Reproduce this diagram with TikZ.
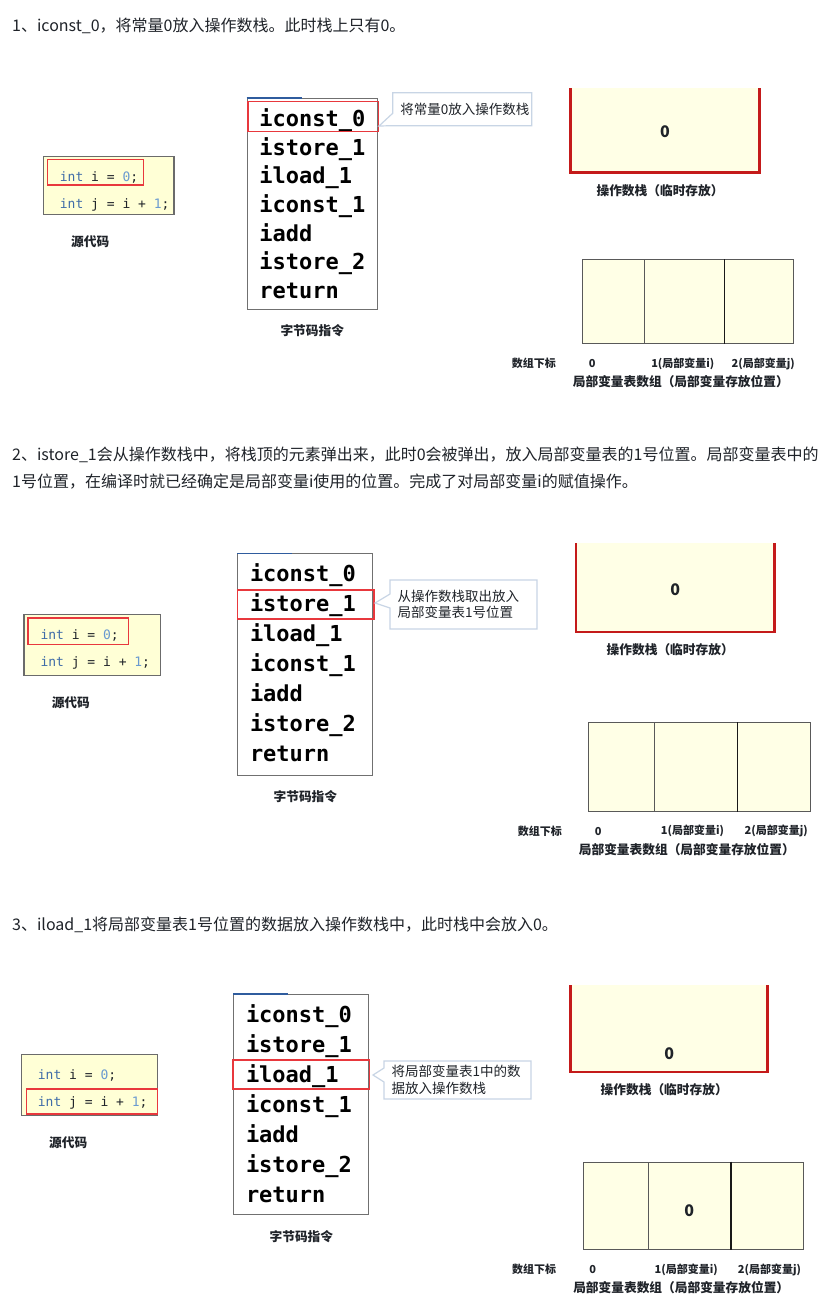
\documentclass[tikz,border=0pt]{standalone}
\usepackage{fontspec}
\setmainfont{Noto Sans CJK SC}
\setmonofont{DejaVu Sans Mono}
\usetikzlibrary{calc,positioning}
\definecolor{ink}{HTML}{1F2329}
\definecolor{kwblue}{HTML}{3F6CA8}
\definecolor{litblue}{HTML}{6A9AD0}
\definecolor{srcfill}{HTML}{FFFFD6}
\definecolor{cellfill}{HTML}{FFFFE6}
\definecolor{hlred}{HTML}{E8383D}
\definecolor{wallred}{HTML}{C41A1A}
\definecolor{noteline}{HTML}{C8D5E5}
\definecolor{edgeblue}{HTML}{2F5C9E}
\newcommand{\kw}[1]{\textcolor{kwblue}{#1}}
\newcommand{\lit}[1]{\textcolor{litblue}{#1}}
\newcommand{\hlbox}[5]{%
  \node[hl,anchor=north west,minimum width={#4-#2},minimum height={#5-#3}] (#1) at (#2,#3) {};
}
\newcommand{\srcpanel}[5]{%
  \node[srcbox,anchor=north west,minimum width=#4,minimum height=#5] (#1) at (#2,#3) {};
  \node[code] (#1-a) at ($(#1.north west)+(17,25)$) {\kw{int} i = \lit{0};};
  \node[code] (#1-b) at ($(#1.north west)+(17,52.5)$) {\kw{int} j = i + \lit{1};};
  \node[caption] (#1-cap) at ($(#1.south west)+(47.5,26.5)$) {源代码};
}
\newcommand{\bcpanel}[6]{%
  \node[bcbox,anchor=north west,minimum width=#4,minimum height=#5] (#1) at (#2,#3) {};
  \draw[bcedge] (#1.north west) -- ++(55,0);
  \foreach \op [count=\k] in {iconst\_0,istore\_1,iload\_1,iconst\_1,iadd,istore\_2,return}
    \node[bcop] (#1-\k) at ($(#1.north west)+(12.5,{28.3+(\k-1)*#6})$) {\op};
  \node[caption] (#1-cap) at ($(#1.south)+(0,21)$) {字节码指令};
}
\newcommand{\callout}[9]{%
  \draw[noteline] (#2,#3) -- (#4,#3) -- (#4,#5) -- (#2,#5) -- (#2,#8) -- #6 -- (#2,#7) -- cycle;
  \node[note] (#1) at ({#2+7.5},{(#3+#5)/2}) {#9};
}
\newcommand{\stackpanel}[6]{%
  \node[stackbody,anchor=north west,minimum width={#4-#2},minimum height={#5-#3}] (#1) at (#2,#3) {};
  \draw[stackwall] (#1.north west) -- (#1.south west) -- (#1.south east) -- (#1.north east);
  \node[val] (#1-v) at ($(#1.south)+(0,-#6)$) {0};
  \node[caption] (#1-cap) at ($(#1.south)+(-5,18)$) {操作数栈（临时存放）};
}
\newcommand{\vartable}[7]{%
  \node[cell,anchor=north west,minimum width={#4-#2},minimum height={#7-#3}] (#1-0) at (#2,#3) {};
  \node[cell,anchor=north west,minimum width={#5-#4},minimum height={#7-#3}] (#1-1) at (#4,#3) {};
  \node[cell,anchor=north west,minimum width={#6-#5},minimum height={#7-#3}] (#1-2) at (#5,#3) {};
  \draw[divider] (#1-1.north east) -- (#1-1.south east);
  \node[idx] (#1-k) at ($(#1-0.south west)+(-48.5,19.3)$) {数组下标};
  \node[idx] (#1-i0) at ($(#1-0.south west)+(10,19.3)$) {0};
  \node[idx] (#1-i1) at ($(#1-1.south west)+(38.5,19.3)$) {1(局部变量i)};
  \node[idx] (#1-i2) at ($(#1-2.south west)+(39.5,19.3)$) {2(局部变量j)};
  \node[caption] (#1-cap) at ($(#1-0.south west)+(98.5,37.5)$) {局部变量表数组（局部变量存放位置）};
}

\begin{document}
\begin{tikzpicture}[x=1pt,y=-1pt,every node/.style={text=ink},
  head/.style={anchor=base west,inner sep=0pt,font=\fontsize{16}{20}\selectfont},
  code/.style={anchor=base west,inner sep=0pt,font=\ttfamily\fontsize{13}{13}\selectfont},
  bcop/.style={anchor=base west,inner sep=0pt,text=black,font=\ttfamily\bfseries\fontsize{22}{22}\selectfont},
  caption/.style={inner sep=0pt,font=\bfseries\fontsize{12.7}{14}\selectfont},
  idx/.style={inner sep=0pt,font=\bfseries\fontsize{11}{12}\selectfont},
  val/.style={inner sep=0pt,font=\bfseries\fontsize{16}{16}\selectfont},
  note/.style={anchor=west,align=left,inner sep=0pt,font=\fontsize{13.5}{16.5}\selectfont},
  srcbox/.style={draw=black!58,fill=srcfill,line width=1.2pt,inner sep=0pt},
  bcbox/.style={draw=black!56,fill=white,line width=1.1pt,inner sep=0pt},
  bcedge/.style={draw=edgeblue,line width=1.1pt},
  hl/.style={draw=hlred,line width=1.3pt,inner sep=0pt},
  stackbody/.style={fill=cellfill,inner sep=0pt},
  stackwall/.style={draw=wallred,line width=2.6pt},
  cell/.style={draw=black!65,fill=cellfill,line width=1pt,inner sep=0pt},
  divider/.style={draw=black!90,line width=1.5pt},
  noteline/.style={draw=noteline,fill=white,line width=1.2pt}]
  \useasboundingbox (0,0) rectangle (837,1309);
  \fill[white] (0,0) rectangle (837,1309);

  \node[head] (h1) at (12,31) {1、iconst\_0，将常量0放入操作数栈。此时栈上只有0。};
  \srcpanel{src1}{42.7}{156}{130.6}{58}
  \hlbox{src1-hl}{46.7}{158.7}{142.7}{184.3}
  \bcpanel{bc1}{246.7}{98}{130}{211}{28.7}
  \hlbox{bc1-hl}{247.3}{100.7}{377.7}{130.7}
  \callout{note1}{392.7}{92.7}{531.7}{125.7}{(379,126)}{113.3}{125.7}{将常量0放入操作数栈}
  \stackpanel{stk1}{570.7}{88}{759}{172.3}{40.6}
  \vartable{var1}{582.3}{259.3}{644.3}{723.7}{793.3}{343.3}

  \node[head] (h2a) at (12,460) {2、istore\_1会从操作数栈中，将栈顶的元素弹出来，此时0会被弹出，放入局部变量表的1号位置。局部变量表中的};
  \node[head] (h2b) at (12,487) {1号位置，在编译时就已经确定是局部变量i使用的位置。完成了对局部变量i的赋值操作。};
  \srcpanel{src2}{23.3}{614}{136.7}{61}
  \hlbox{src2-hl}{27.3}{617.3}{127.7}{644}
  \bcpanel{bc2}{237.3}{553.3}{135}{221.7}{30}
  \hlbox{bc2-hl}{236.7}{589.3}{373.3}{618.3}
  \callout{note2}{390}{580}{537}{629}{(375,603)}{594}{608}{从操作数栈取出放入\\局部变量表1号位置}
  \stackpanel{stk2}{576}{543}{774}{631.7}{42.4}
  \vartable{var2}{588.3}{722.3}{654}{736.7}{810}{810.7}

  \node[head] (h3) at (12,930) {3、iload\_1将局部变量表1号位置的数据放入操作数栈中，此时栈中会放入0。};
  \srcpanel{src3}{20.7}{1054}{136}{61}
  \hlbox{src3-hl}{26}{1088.3}{156.7}{1113.3}
  \bcpanel{bc3}{233.3}{994}{135}{220.3}{30}
  \hlbox{bc3-hl}{232.3}{1059.3}{369}{1088.3}
  \callout{note3}{384}{1061}{531}{1099}{(373,1075)}{1068}{1082}{将局部变量表1中的数\\据放入操作数栈}
  \stackpanel{stk3}{570.7}{985}{767.3}{1071.7}{18.4}
  \vartable{var3}{582.7}{1161.7}{647.7}{730}{802.7}{1249.3}
  \node[val] (var3-v) at ($(var3-1.center)+(0,5)$) {0};
\end{tikzpicture}
\end{document}
